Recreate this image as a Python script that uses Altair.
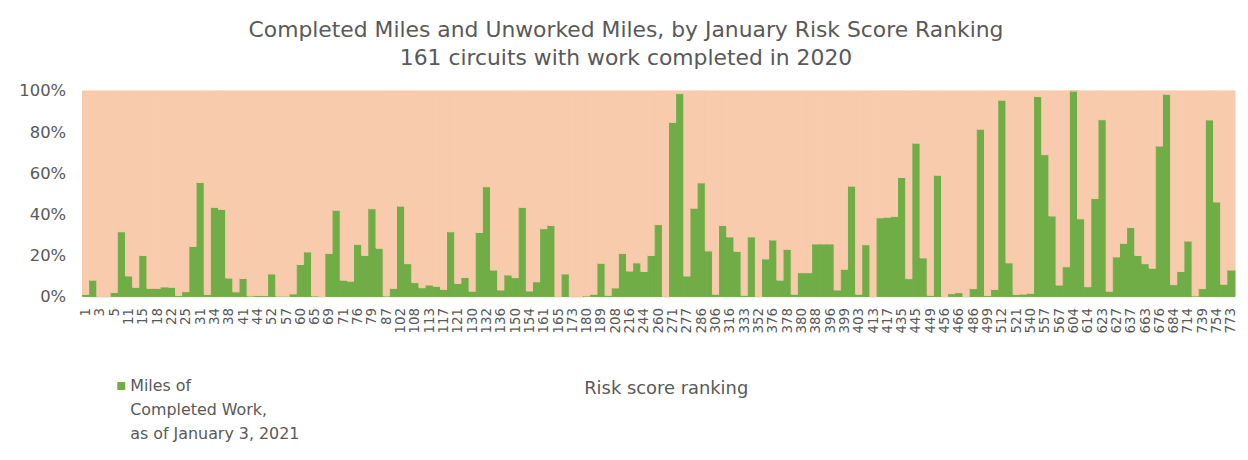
import altair as alt
import pandas as pd

# Risk score ranking of each circuit (x categories)
ranks = [
    1, 2, 3, 4, 5, 8, 11, 13, 15, 16,
    18, 20, 22, 23, 25, 28, 31, 33, 34, 36,
    38, 40, 41, 43, 44, 48, 52, 55, 57, 59,
    60, 63, 65, 67, 69, 70, 71, 74, 76, 77,
    79, 83, 87, 95, 102, 105, 108, 110, 113, 115,
    117, 119, 121, 125, 130, 131, 132, 134, 136, 142,
    150, 152, 154, 158, 161, 163, 165, 170, 173, 177,
    180, 185, 189, 199, 208, 212, 216, 230, 244, 252,
    260, 266, 271, 274, 277, 281, 286, 296, 306, 311,
    316, 325, 333, 342, 352, 364, 376, 377, 378, 379,
    380, 384, 388, 392, 396, 397, 399, 401, 403, 408,
    413, 415, 417, 426, 435, 440, 445, 447, 449, 452,
    456, 461, 466, 476, 486, 492, 499, 505, 512, 517,
    521, 530, 540, 548, 557, 562, 567, 585, 604, 609,
    614, 618, 623, 625, 627, 632, 637, 650, 663, 670,
    676, 680, 684, 699, 714, 726, 739, 746, 754, 763,
    773,
]

# Share of circuit miles with completed work (%)
completed_pct = [
    1, 8, 0, 0, 2, 31.5, 10, 4.5, 20, 4,
    4, 4.7, 4.5, 0.5, 2.4, 24.4, 55.5, 1, 43.4, 42.4,
    9, 2.3, 8.8, 0.3, 0.5, 0.5, 11, 0.2, 0.2, 1.3,
    15.6, 21.7, 0.3, 0, 21, 42, 8, 7.5, 25.4, 20,
    42.7, 23.5, 0.3, 4, 44, 16, 6.8, 4.3, 5.6, 5,
    3.5, 31.5, 6.4, 9.3, 2.6, 31.2, 53.4, 12.9, 3.2, 10.5,
    9.2, 43.4, 2.7, 7.2, 33, 34.6, 0, 11, 0, 0,
    0.3, 1.1, 16.2, 0.6, 4.2, 21, 12.4, 16.4, 12.2, 20,
    35, 0, 84.7, 98.7, 10, 43, 55.3, 22.2, 1.1, 34.6,
    29, 22, 0.6, 29, 0, 18.3, 27.5, 8, 23, 1.1,
    11.6, 11.6, 25.6, 25.6, 25.6, 3.2, 13.3, 53.7, 1.1, 25.2,
    0, 38.3, 38.6, 39, 57.9, 8.7, 74.6, 18.8, 0.6, 59,
    0, 1.4, 1.9, 0, 3.9, 81.4, 0.5, 3.5, 95.5, 16.4,
    1, 1.2, 1.6, 97.3, 69, 39.2, 5.6, 14.5, 100, 37.8,
    4.8, 47.7, 86, 2.6, 19.3, 25.9, 33.6, 20, 16, 13.8,
    73.2, 98.4, 5.8, 12.2, 27, 0.3, 3.9, 85.9, 46, 6,
    12.9,
]

series_names = ["Miles of Completed Work, as of January 3, 2021", "Unworked Miles"]
series_colors = ["#70AD47", "#F8CBAD"]
legend_lines = ["Miles of", "Completed Work,", "as of January 3, 2021"]
y_ticks = [0, 20, 40, 60, 80, 100]

rank_labels = [str(r) for r in ranks]
rows = []
for r, c in zip(rank_labels, completed_pct):
    rows.append({"rank": r, "series": series_names[0], "pct": c, "ord": 0})
    rows.append({"rank": r, "series": series_names[1], "pct": 100 - c, "ord": 1})
df = pd.DataFrame(rows)

FONT = "DejaVu Sans"
GRAY = "#595959"

color_scale = alt.Scale(domain=series_names, range=series_colors)

bars = alt.Chart(df).mark_bar(strokeWidth=1).encode(
    x=alt.X(
        "rank:N",
        sort=rank_labels,
        scale=alt.Scale(paddingInner=0, paddingOuter=0),
        axis=alt.Axis(
            values=rank_labels[::2],
            labelAngle=-90,
            labelFontSize=13.5,
            labelFont=FONT,
            labelColor=GRAY,
            labelPadding=11,
            ticks=False,
            domain=False,
            title="Risk score ranking",
            titleFont=FONT,
            titleFontSize=18,
            titleFontWeight="normal",
            titleColor=GRAY,
            titleX=587,
            titleY=84,
            titleAlign="center",
        ),
    ),
    y=alt.Y(
        "pct:Q",
        stack="zero",
        scale=alt.Scale(domain=[0, 100], nice=False),
        axis=alt.Axis(
            values=y_ticks,
            labelExpr="datum.value + '%'",
            grid=False,
            ticks=False,
            domain=False,
            title=None,
            labelFont=FONT,
            labelFontSize=16.5,
            labelColor=GRAY,
            labelPadding=17,
        ),
    ),
    color=alt.Color("series:N", scale=color_scale, legend=None),
    stroke=alt.Stroke("series:N", scale=color_scale, legend=None),
    order=alt.Order("ord:Q"),
)

legend_df = pd.DataFrame({"series": [series_names[0]]})

legend_symbol = alt.Chart(legend_df).mark_square(size=64, opacity=1).encode(
    x=alt.value(39),
    y=alt.value(297),
    color=alt.Color("series:N", scale=color_scale, legend=None),
)

legend_text = alt.Chart(legend_df).mark_text(
    align="left",
    baseline="top",
    font=FONT,
    fontSize=16,
    lineHeight=24,
    color=GRAY,
).encode(
    x=alt.value(48),
    y=alt.value(289),
    text=alt.value(legend_lines),
)

chart = alt.layer(bars, legend_symbol, legend_text).properties(
    width=1160,
    height=207,
    padding={"left": 75, "top": 82, "right": 5, "bottom": 162},
    autosize=alt.AutoSizeParams(type="none"),
    title=alt.TitleParams(
        text=[
            "Completed Miles and Unworked Miles, by January Risk Score Ranking",
            "161 circuits with work completed in 2020",
        ],
        font=FONT,
        fontSize=22,
        fontWeight="normal",
        color=GRAY,
        anchor="middle",
        dx=-33,
        lineHeight=28,
        baseline="bottom",
        offset=-9,
    ),
).configure_view(stroke=None)

chart.save("out.html", embed_options={"renderer": "svg", "actions": False})
